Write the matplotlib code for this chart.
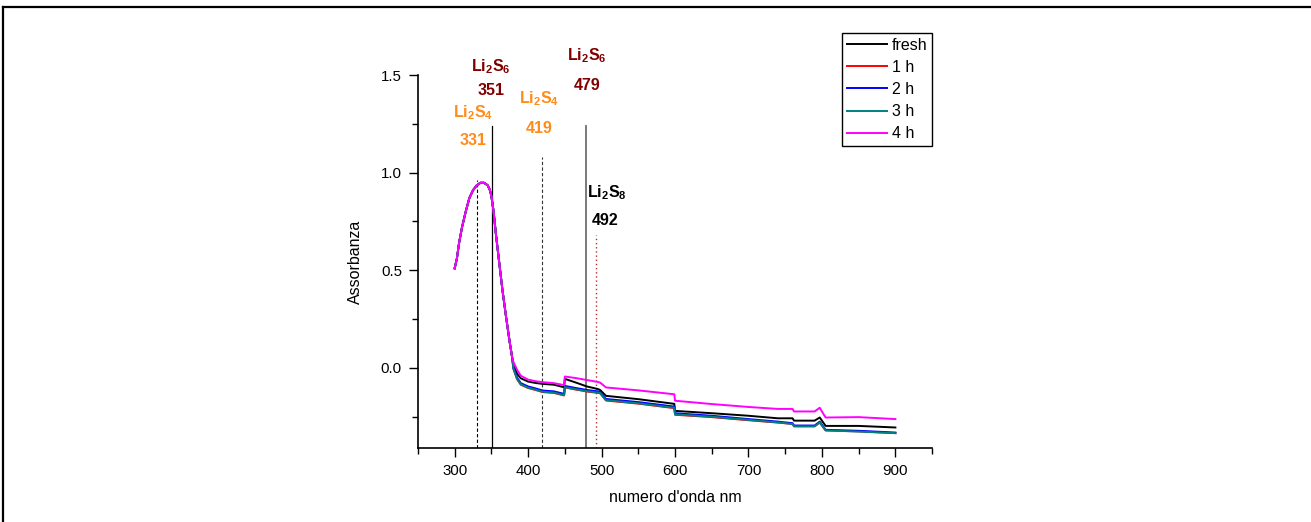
import numpy as np
import matplotlib.pyplot as plt
from matplotlib.lines import Line2D
from matplotlib.ticker import MultipleLocator

plt.rcParams['font.family'] = ['Liberation Sans', 'DejaVu Sans']
plt.rcParams['mathtext.fontset'] = 'custom'
plt.rcParams['mathtext.rm'] = 'Liberation Sans:bold'
plt.rcParams['mathtext.bf'] = 'Liberation Sans:bold'
plt.rcParams['mathtext.it'] = 'Liberation Sans:bold'

# Banda comune (tutti i campioni coincidono fino a ~378 nm)
wl_peak = [300, 303, 306, 310, 315, 320, 325, 330, 335, 340, 345, 348, 350,
           353, 356, 360, 365, 370, 375, 378]
abs_peak = [0.51, 0.56, 0.64, 0.72, 0.80, 0.87, 0.91, 0.935, 0.948, 0.948,
            0.935, 0.91, 0.88, 0.80, 0.69, 0.56, 0.40, 0.26, 0.13, 0.06]

# Coda dello spettro, diversa per ogni campione
wl_tail = [380, 385, 390, 400, 410, 420, 435, 449, 450, 465, 480, 495, 498,
           506, 550, 599, 600, 650, 700, 740, 760, 762, 790, 797, 805, 850, 900]
tail_fresh = [0.02, -0.03, -0.053, -0.07, -0.077, -0.082, -0.086, -0.099, -0.056,
              -0.075, -0.095, -0.108, -0.113, -0.143, -0.160, -0.184, -0.22,
              -0.232, -0.245, -0.258, -0.258, -0.27, -0.27, -0.254, -0.297,
              -0.297, -0.305]
tail_1h = [-0.005, -0.058, -0.086, -0.103, -0.113, -0.124, -0.128, -0.141, -0.100,
           -0.111, -0.121, -0.128, -0.130, -0.167, -0.183, -0.206, -0.240,
           -0.252, -0.268, -0.280, -0.287, -0.299, -0.299, -0.280, -0.320,
           -0.325, -0.334]
tail_2h = [0.0, -0.05, -0.078, -0.095, -0.105, -0.116, -0.12, -0.133, -0.092,
           -0.103, -0.113, -0.12, -0.122, -0.159, -0.175, -0.198, -0.232,
           -0.245, -0.262, -0.275, -0.283, -0.295, -0.295, -0.275, -0.317,
           -0.322, -0.331]
tail_3h = [-0.004, -0.056, -0.084, -0.101, -0.111, -0.122, -0.126, -0.139, -0.098,
           -0.109, -0.119, -0.126, -0.128, -0.165, -0.181, -0.204, -0.238,
           -0.250, -0.266, -0.279, -0.287, -0.299, -0.299, -0.279, -0.320,
           -0.326, -0.334]
tail_4h = [0.03, -0.01, -0.04, -0.06, -0.068, -0.073, -0.078, -0.088, -0.044,
           -0.052, -0.062, -0.072, -0.075, -0.10, -0.115, -0.135, -0.168,
           -0.185, -0.200, -0.210, -0.210, -0.223, -0.223, -0.204, -0.254,
           -0.252, -0.262]

labels = ['fresh', '1 h', '2 h', '3 h', '4 h']
tails = [tail_fresh, tail_1h, tail_2h, tail_3h, tail_4h]
colors = ['black', '#FF0000', '#0000FF', '#008080', '#FF00FF']

# Picchi dei polisolfuri
peak_species = ['Li$_2$S$_4$', 'Li$_2$S$_6$', 'Li$_2$S$_4$', 'Li$_2$S$_6$', 'Li$_2$S$_8$']
peak_pos = [331, 351, 419, 479, 492]
peak_top = [0.96, 1.24, 1.08, 1.24, 0.68]

fig = plt.figure(figsize=(13.11, 5.22), dpi=100)
ax = fig.add_axes([0.3188, 0.1418, 0.3922, 0.7145])

wl = np.array(wl_peak + wl_tail)
for lab, tail, c in zip(labels, tails, colors):
    ax.plot(wl, np.array(abs_peak + tail), color=c, lw=1.4, label=lab, zorder=3)

ymin = -0.41
styles = [dict(color='black', ls=(0, (3, 2)), lw=0.8),
          dict(color='black', ls='-', lw=0.9),
          dict(color='#333333', ls=(0, (3, 2)), lw=0.8),
          dict(color='#707070', ls='-', lw=1.3),
          dict(color='#B03030', ls=(0, (1, 2)), lw=1.0)]
for x, top, st in zip(peak_pos, peak_top, styles):
    ax.plot([x, x], [ymin, top], zorder=2, **st)

orange = '#FF8C1A'
darkred = '#800000'
txt = dict(fontsize=11.5, fontweight='bold', ha='center', va='center')
ax.text(325, 1.305, peak_species[0], color=orange, **txt)
ax.text(325, 1.167, str(peak_pos[0]), color=orange, **txt)
ax.text(349, 1.545, peak_species[1], color=darkred, **txt)
ax.text(349, 1.42, str(peak_pos[1]), color=darkred, **txt)
ax.text(415, 1.377, peak_species[2], color=orange, **txt)
ax.text(415, 1.228, str(peak_pos[2]), color=orange, **txt)
ax.text(480, 1.597, peak_species[3], color=darkred, **txt)
ax.text(480, 1.448, str(peak_pos[3]), color=darkred, **txt)
ax.text(507, 0.90, peak_species[4], color='black', **txt)
ax.text(505, 0.757, str(peak_pos[4]), color='black', **txt)

ax.set_xlim(250, 950)
ax.set_ylim(ymin, 1.5)
ax.xaxis.set_major_locator(MultipleLocator(100))
ax.xaxis.set_minor_locator(MultipleLocator(50))
ax.yaxis.set_major_locator(MultipleLocator(0.5))
ax.yaxis.set_minor_locator(MultipleLocator(0.25))
ax.set_xticks(np.arange(300, 901, 100))
ax.tick_params(which='major', direction='out', length=6.5, width=1, labelsize=10.8,
               pad=5)
ax.tick_params(which='minor', direction='out', length=4.5, width=1)
for s in ['top', 'right']:
    ax.spines[s].set_visible(False)
for s in ['left', 'bottom']:
    ax.spines[s].set_linewidth(1.2)

ax.set_xlabel("numero d'onda nm", fontsize=11.5, labelpad=9)
ax.set_ylabel('Assorbanza', fontsize=11.5, labelpad=13)

leg = fig.legend(loc='upper right', bbox_to_anchor=(0.711, 0.937),
                 bbox_transform=fig.transFigure, fontsize=11.5, handlelength=2.5,
                 labelspacing=0.45, handletextpad=0.3, borderpad=0.3,
                 borderaxespad=0, fancybox=False, framealpha=1)
leg.get_frame().set_edgecolor('black')
leg.get_frame().set_linewidth(1.0)

# Cornice esterna
fig.add_artist(Line2D([0.0023, 1.0], [0.9866, 0.9866], color='black', lw=1.6,
                      transform=fig.transFigure))
fig.add_artist(Line2D([0.0023, 0.0023], [0.0, 0.9866], color='black', lw=1.6,
                      transform=fig.transFigure))

fig.savefig('out.png', dpi=100)
